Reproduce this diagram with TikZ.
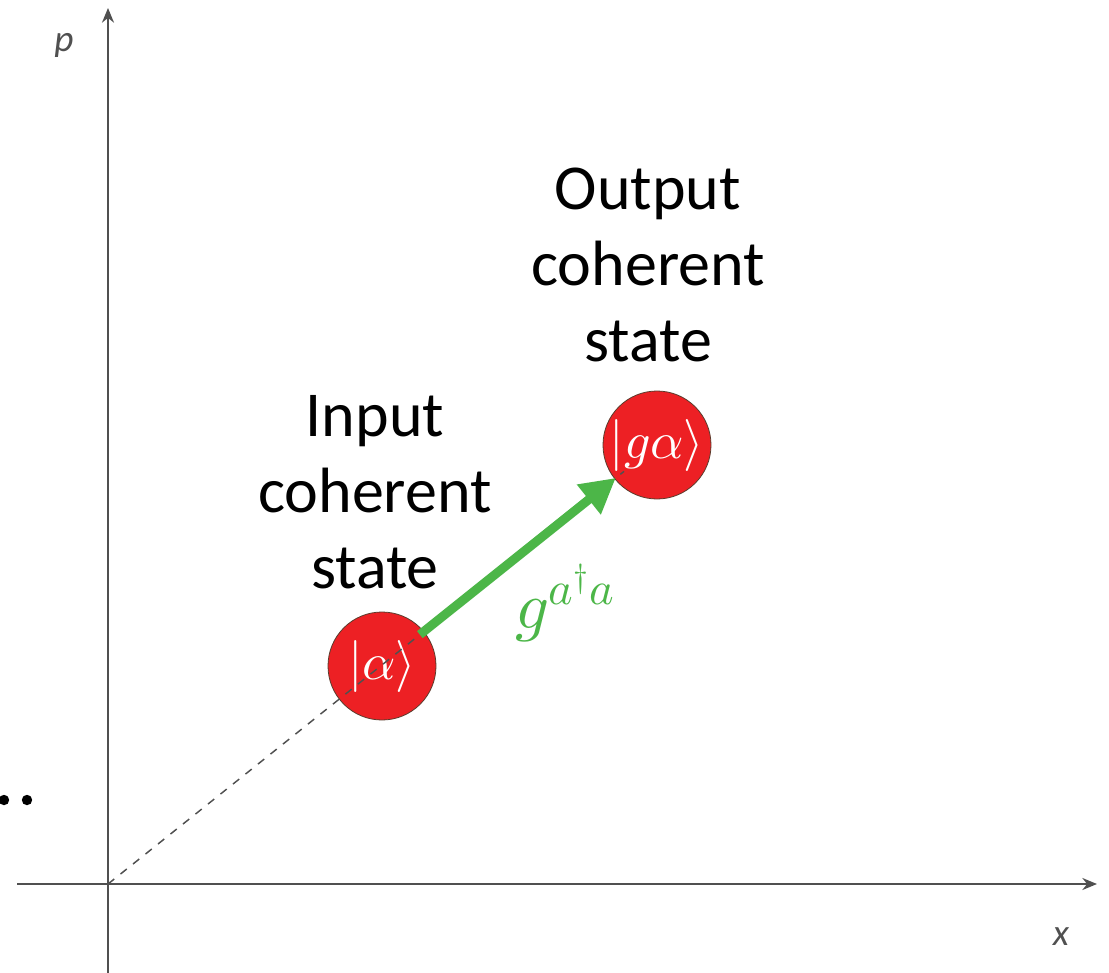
\documentclass[tikz,border=0pt]{standalone}
\usepackage{fontspec}
\usepackage{unicode-math}
\setmainfont{Carlito}
\setmathfont{Latin Modern Math}
\usetikzlibrary{arrows.meta,calc}
\definecolor{dotred}{RGB}{237,32,36}
\definecolor{rimbrown}{RGB}{90,60,45}
\definecolor{arrowgreen}{RGB}{76,182,72}
\definecolor{axisgray}{RGB}{80,80,80}
\tikzset{
  axisline/.style={draw=axisgray, line width=1.5pt, -{Stealth[length=11pt,width=9pt]}},
  axislabel/.style={text=axisgray, font=\fontsize{28}{30}\selectfont\itshape, inner sep=0pt},
  state/.style={circle, fill=dotred, draw=rimbrown, line width=0.6pt, minimum size=81pt,
    inner sep=0pt, text=white, font=\fontsize{39}{42}\selectfont},
  caption/.style={align=center, font=\fontsize{48}{57}\selectfont, inner sep=0pt},
  guide/.style={draw=axisgray, line width=1.1pt, dash pattern=on 6pt off 6pt},
  shift arrow/.style={draw=arrowgreen, line width=6.75pt,
    -{Triangle[length=26pt,width=27pt]}},
  ellipsis dot/.style={fill=black}
}
\begin{document}
\begin{tikzpicture}[x=0.75pt,y=-0.75pt]
\useasboundingbox (0,0) rectangle (1109,973);

% phase-space axes
\coordinate (O) at (108,884);
\coordinate (pbot) at (108,973);
\coordinate (ptop) at (108,8);
\coordinate (xleft) at (17,884);
\coordinate (xright) at (1097,884);
\draw[axisline] (pbot) -- (ptop);
\draw[axisline] (xleft) -- (xright);
\node[axislabel] (plab) at (64,45) {p};
\node[axislabel] (xlab) at (1061,937) {x};

% ellipsis at the left edge
\fill[ellipsis dot] (4,800) circle (5.2);
\fill[ellipsis dot] (27,800) circle (5.2);

% coherent states
\node[state] (a) at (382,666) {$|\alpha\rangle$};
\node[state] (ga) at (657,445) {$|g\alpha\rangle$};

% ray from the origin through both states
\coordinate (rayend) at ($(O)!0.94!(ga)$);
\draw[guide] (O) -- (rayend);

% amplification
\coordinate (shiftstart) at ($(O)!0.568!(ga)$);
\coordinate (shiftend) at ($(O)!0.925!(ga)$);
\draw[shift arrow] (shiftstart) -- (shiftend);
\node[text=arrowgreen, font=\fontsize{50}{54}\selectfont] (gain) at (565,603) {$g^{a^\dagger a}$};

% captions
\node[caption] (incap) at (375,492) {Input\\coherent\\state};
\node[caption] (outcap) at (648,265) {Output\\coherent\\state};
\end{tikzpicture}
\end{document}
